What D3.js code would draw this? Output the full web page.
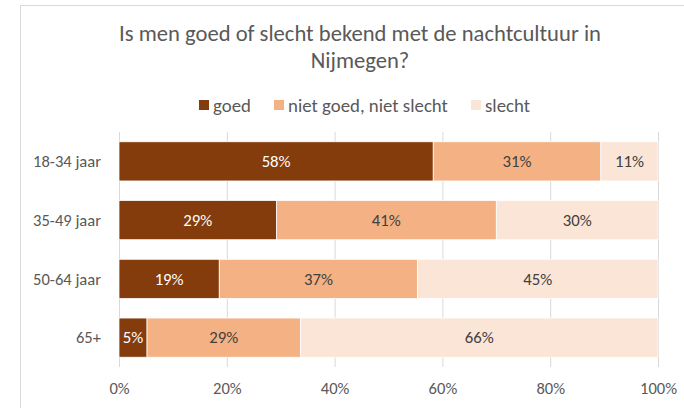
<!DOCTYPE html>
<html><head><meta charset="utf-8">
<script src="https://cdn.jsdelivr.net/npm/d3@7"></script>
<style>html,body{margin:0;padding:0;background:#fff;}svg{display:block;}</style>
</head><body>
<svg id="c" width="684" height="408"></svg>
<script>
const categories = ["18-34 jaar", "35-49 jaar", "50-64 jaar", "65+"];
const seriesNames = ["goed", "niet goed, niet slecht", "slecht"];
const goed = [58.3, 29.2, 18.6, 5.2];
const neutraal = [31.1, 40.8, 36.8, 28.5];
const slecht = [10.6, 30.0, 44.6, 66.3];
const ticks = [0, 20, 40, 60, 80, 100];
const colors = ["#843C0C", "#F4B183", "#FBE5D6"];
const labelColors = ["#FFFFFF", "#404040", "#404040"];
const title = ["Is men goed of slecht bekend met de nachtcultuur in", "Nijmegen?"];

const font = "Carlito, Calibri, Lato, 'Open Sans', sans-serif";
const svg = d3.select("#c");

// font size that makes `str` span `target` px
function sizeFor(str, target) {
  const t = svg.append("text").attr("font-family", font).attr("font-size", 20).text(str);
  const w = t.node().getComputedTextLength();
  t.remove();
  return 20 * target / w;
}
const titleSize = sizeFor(title[0], 482);
const legendSize = sizeFor(seriesNames[1], 160);
const catSize = sizeFor(categories[0], 68);
const tickSize = sizeFor("100%", 37);
const dataSize = sizeFor("58%", 29);

// chart border
svg.append("rect").attr("x", 20.5).attr("y", 5.5).attr("width", 700).attr("height", 420)
  .attr("fill", "#fff").attr("stroke", "#D9D9D9").attr("stroke-width", 1);

// title
svg.append("g").selectAll("text").data(title).join("text")
  .attr("x", 360).attr("y", (d, i) => 41 + i * 27).attr("text-anchor", "middle")
  .attr("font-family", font).attr("font-size", titleSize).attr("fill", "#595959").text(d => d);

// scales
const x = d3.scaleLinear().domain([0, 100]).range([119, 658]);
const y = d3.scaleBand().domain(categories).range([132, 367]).paddingInner(1/3).paddingOuter(1/6);

// gridlines
svg.append("g").selectAll("line").data(ticks).join("line")
  .attr("x1", d => x(d) + 0.5).attr("x2", d => x(d) + 0.5)
  .attr("y1", 132).attr("y2", 367).attr("stroke", "#D9D9D9").attr("stroke-width", 1);

// stacked data
const rows = categories.map((c, i) => ({cat: c, goed: goed[i], neutraal: neutraal[i], slecht: slecht[i]}));
const stack = d3.stack().keys(["goed", "neutraal", "slecht"])(rows);

const g = svg.append("g");
stack.forEach((layer, li) => {
  g.selectAll(null).data(layer).join("rect")
    .attr("x", d => x(d[0])).attr("width", d => x(d[1]) - x(d[0]))
    .attr("y", d => y(d.data.cat)).attr("height", y.bandwidth())
    .attr("fill", colors[li]).attr("stroke", "#fff").attr("stroke-width", 0.75);
  g.selectAll(null).data(layer).join("text")
    .attr("x", d => (x(d[0]) + x(d[1])) / 2)
    .attr("y", d => y(d.data.cat) + y.bandwidth() / 2)
    .attr("dy", "0.35em")
    .attr("text-anchor", "middle").attr("font-family", font).attr("font-size", dataSize)
    .attr("fill", labelColors[li])
    .text(d => Math.round(d[1] - d[0]) + "%");
});

// y axis labels
const yAxis = d3.axisLeft(y).tickSize(0).tickPadding(0);
const ya = svg.append("g").attr("transform", "translate(101,0)").call(yAxis);
ya.select(".domain").remove();
ya.selectAll("text").attr("font-family", font).attr("font-size", catSize).attr("fill", "#595959").attr("dy", "0.35em");

// x axis labels
const xAxis = d3.axisBottom(x).tickValues(ticks).tickFormat(d => d + "%").tickSize(0).tickPadding(0);
const xa = svg.append("g").attr("transform", "translate(0,388)").call(xAxis);
xa.select(".domain").remove();
xa.selectAll("text").attr("font-family", font).attr("font-size", tickSize).attr("fill", "#595959").attr("dy", "0.35em");

// legend
const legendX = [199, 274, 471];
const lg = svg.append("g");
seriesNames.forEach((n, i) => {
  lg.append("rect").attr("x", legendX[i]).attr("y", 100).attr("width", 10).attr("height", 10).attr("fill", colors[i]);
  lg.append("text").attr("x", legendX[i] + 14).attr("y", 105).attr("dy", "0.35em").attr("font-family", font).attr("font-size", legendSize)
    .attr("fill", "#595959").text(n);
});
</script>
</body></html>
